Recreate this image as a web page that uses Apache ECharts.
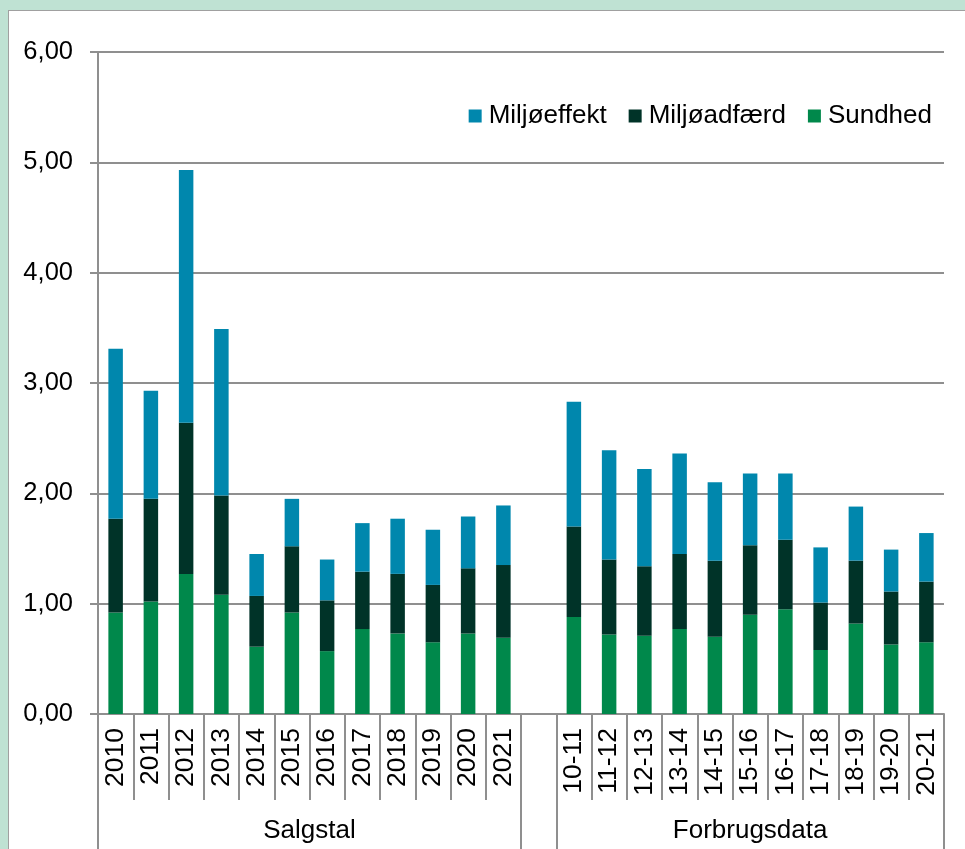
<!DOCTYPE html>
<html>
<head>
<meta charset="utf-8">
<script src="https://cdn.jsdelivr.net/npm/echarts@6/dist/echarts.min.js"></script>
<style>
  html, body { margin: 0; padding: 0; width: 965px; height: 849px; overflow: hidden; background: #bfe2d3; }
  #panel { position: absolute; left: 8px; top: 10px; width: 1000px; height: 900px; background: #fff; border: 1px solid #a0a0a0; }
  #chart { position: absolute; left: 0; top: 0; width: 965px; height: 849px; }
</style>
</head>
<body>
<div id="panel"></div>
<div id="chart"></div>
<script>
// categories (empty slot separates the two groups)
const categories = ['2010', '2011', '2012', '2013', '2014', '2015', '2016', '2017', '2018', '2019', '2020', '2021', '',
  '10-11', '11-12', '12-13', '13-14', '14-15', '15-16', '16-17', '17-18', '18-19', '19-20', '20-21'];

const sundhed = [0.92, 1.02, 1.27, 1.08, 0.61, 0.92, 0.57, 0.77, 0.73, 0.65, 0.73, 0.69, null,
  0.88, 0.72, 0.71, 0.77, 0.70, 0.90, 0.95, 0.58, 0.82, 0.63, 0.65];
const miljoadfaerd = [0.85, 0.93, 1.37, 0.90, 0.46, 0.60, 0.46, 0.52, 0.54, 0.52, 0.59, 0.66, null,
  0.82, 0.68, 0.63, 0.68, 0.69, 0.63, 0.63, 0.43, 0.57, 0.48, 0.55];
const miljoeffekt = [1.54, 0.98, 2.29, 1.51, 0.38, 0.43, 0.37, 0.44, 0.50, 0.50, 0.47, 0.54, null,
  1.13, 0.99, 0.88, 0.91, 0.71, 0.65, 0.60, 0.50, 0.49, 0.38, 0.44];

const yTicks = [0, 1, 2, 3, 4, 5, 6];

// group labels: name, start slot, end slot
const groups = [
  { name: 'Salgstal', from: 0, to: 12 },
  { name: 'Forbrugsdata', from: 13, to: 24 }
];

const chart = echarts.init(document.getElementById('chart'));

const font = 'Liberation Sans, Arial, sans-serif';
const gray = '#8f8f8f';

const groupBounds = [];
groups.forEach(g => { groupBounds.push(g.from, g.to); });
const groupCenters = groups.map(g => (g.from + g.to) / 2);

const option = {
  animation: false,
  textStyle: { fontFamily: font },
  grid: { left: 98, right: 21, top: 52, bottom: 135, containLabel: false },
  legend: {
    data: ['Miljøeffekt', 'Miljøadfærd', 'Sundhed'],
    right: 33,
    top: 103,
    padding: 0,
    itemWidth: 13,
    itemHeight: 13,
    itemGap: 22,
    icon: 'rect',
    textStyle: { fontSize: 26, color: '#000', fontFamily: font, padding: [0, 0, 0, 2] }
  },
  xAxis: [
    {
      type: 'category',
      data: categories,
      axisLine: { show: true, lineStyle: { color: gray, width: 2 } },
      axisTick: { show: true, interval: 0, length: 86, lineStyle: { color: gray, width: 2 } },
      axisLabel: {
        interval: 0,
        rotate: 90,
        margin: 14,
        fontSize: 26.5,
        color: '#000',
        fontFamily: font
      },
      splitLine: { show: false }
    },
    {
      type: 'value',
      position: 'bottom',
      min: 0,
      max: 24,
      axisLine: { show: false },
      axisTick: { show: true, length: 200, customValues: groupBounds, lineStyle: { color: gray, width: 2 } },
      axisLabel: {
        show: true,
        customValues: groupCenters,
        margin: 104,
        fontSize: 26,
        color: '#000',
        fontFamily: font,
        formatter: v => {
          const i = groupCenters.indexOf(v);
          return i >= 0 ? groups[i].name : '';
        }
      },
      splitLine: { show: false }
    }
  ],
  yAxis: {
    type: 'value',
    min: yTicks[0],
    max: yTicks[yTicks.length - 1],
    interval: 1,
    axisLine: { show: true, lineStyle: { color: gray, width: 2 } },
    axisTick: { show: true, length: 8, lineStyle: { color: gray, width: 2 } },
    axisLabel: {
      margin: 25,
      fontSize: 25.5,
      color: '#000',
      fontFamily: font,
      formatter: v => v.toFixed(2).replace('.', ',')
    },
    splitLine: { show: true, lineStyle: { color: gray, width: 2 } }
  },
  series: [
    {
      name: 'Sundhed',
      type: 'bar',
      stack: 'total',
      barWidth: 14.5,
      itemStyle: { color: '#00884b' },
      data: sundhed
    },
    {
      name: 'Miljøadfærd',
      type: 'bar',
      stack: 'total',
      barWidth: 14.5,
      itemStyle: { color: '#003328' },
      data: miljoadfaerd
    },
    {
      name: 'Miljøeffekt',
      type: 'bar',
      stack: 'total',
      barWidth: 14.5,
      itemStyle: { color: '#0087ad' },
      data: miljoeffekt
    }
  ]
};

chart.setOption(option);
</script>
</body>
</html>
